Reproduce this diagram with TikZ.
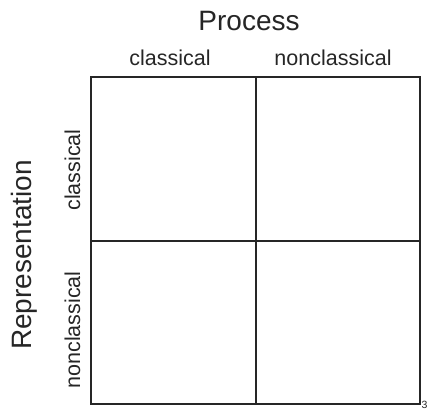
\documentclass[tikz,border=0pt]{standalone}
\usepackage{fontspec}
\setmainfont{Liberation Sans}
\begin{document}
\begin{tikzpicture}[x=1pt,y=-1pt,
  cell/.style={draw=black!85,line width=2pt,minimum width=164.5pt,minimum height=163.5pt,inner sep=0pt,outer sep=0pt},
  big/.style={font=\fontsize{28}{28}\selectfont,inner sep=0pt,text=black!85},
  small/.style={font=\fontsize{21.5}{21.5}\selectfont,inner sep=0pt,text=black!85}]
\useasboundingbox (0,0) rectangle (427,410);
% the 2x2 grid
\node[cell,anchor=north west] (c11) at (91,77) {};
\node[cell,anchor=north west] (c12) at (255.5,77) {};
\node[cell,anchor=north west] (c21) at (91,240.5) {};
\node[cell,anchor=north west] (c22) at (255.5,240.5) {};
% column headings
\node[big,anchor=base] (proc) at (249,30) {Process};
\node[small,anchor=base] (pc) at (170,65) {classical};
\node[small,anchor=base] (pn) at (333,65) {nonclassical};
% row headings
\node[big,anchor=base,rotate=90] (rep) at (31,255) {Representation};
\node[small,anchor=base,rotate=90] (rc) at (80,170) {classical};
\node[small,anchor=base,rotate=90] (rn) at (80,330) {nonclassical};
% page number
\node[font=\fontsize{10.5}{10.5}\selectfont,inner sep=0pt,anchor=base west,text=black!85] (pg) at (421.5,408) {3};
\end{tikzpicture}
\end{document}
